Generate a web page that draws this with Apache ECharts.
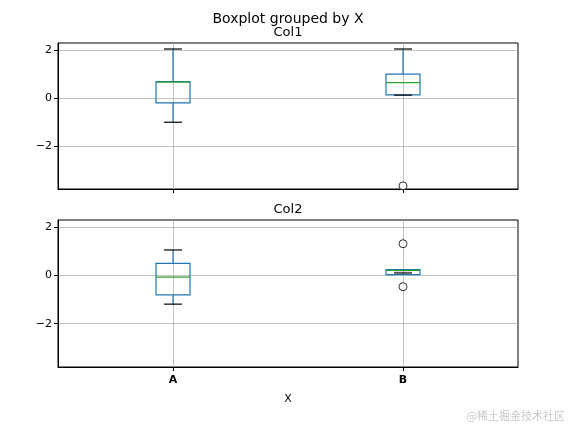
<!DOCTYPE html>
<html>
<head>
<meta charset="UTF-8">
<script src="https://cdn.jsdelivr.net/npm/echarts@6/dist/echarts.min.js"></script>
</head>
<body style="margin:0">
<div id="main" style="width:576px;height:432px;"></div>
<script type="text/javascript">
var groups = ['A', 'B'];
// [min, Q1, median, Q3, max]
var col1Box = [[-1.01, -0.2, 0.66, 0.68, 2.04], [0.12, 0.13, 0.64, 0.99, 2.04]];
var col2Box = [[-1.19, -0.81, -0.07, 0.5, 1.05], [0.1, 0.03, 0.21, 0.24, 0.2]];
var col1Out = [['B', -3.66]];
var col2Out = [['B', 1.31], ['B', -0.47]];
var yTicks = [-2, 0, 2];

var myChart = echarts.init(document.getElementById('main'));

function fmt(v) { return String(v).replace('-', '\u2212'); }

function yAxis(idx) {
    return {
        gridIndex: idx, type: 'value', min: -3.79, max: 2.29,
        axisLine: { show: true, lineStyle: { color: '#000' } },
        axisTick: { show: true, customValues: yTicks, length: 4, lineStyle: { color: '#000' } },
        axisLabel: { customValues: yTicks, formatter: fmt, color: '#000', fontSize: 11, margin: 6 },
        splitLine: { show: false }
    };
}
function xAxis(idx, labels) {
    return {
        gridIndex: idx, type: 'category', data: groups,
        name: labels ? 'X' : '', nameLocation: 'middle', nameGap: 27,
        nameTextStyle: { color: '#000', fontSize: 11 },
        axisLine: { show: true, onZero: false, lineStyle: { color: '#000' } },
        axisTick: { show: true, alignWithLabel: true, length: 4, lineStyle: { color: '#000' } },
        axisLabel: { show: labels, color: '#000', fontSize: 11, fontWeight: 'bold' },
        splitLine: { show: false }
    };
}

// box drawn by hand so caps and median can have their own colours
function renderBox(params, api) {
    var x = api.coord([api.value(0), 0])[0];
    var y = [1, 2, 3, 4, 5].map(function (k) { return api.coord([api.value(0), api.value(k)])[1]; });
    var hw = 17, cw = 9;
    var blue = { stroke: '#1f77b4', lineWidth: 1.2, fill: null };
    return {
        type: 'group',
        children: [
            { type: 'line', shape: { x1: x, y1: y[0], x2: x, y2: y[1] }, style: blue },
            { type: 'line', shape: { x1: x, y1: y[3], x2: x, y2: y[4] }, style: blue },
            { type: 'rect', shape: { x: x - hw, y: Math.min(y[1], y[3]), width: 2 * hw, height: Math.abs(y[1] - y[3]) }, style: blue },
            { type: 'line', shape: { x1: x - cw, y1: y[0], x2: x + cw, y2: y[0] }, style: { stroke: '#000', lineWidth: 1.2 } },
            { type: 'line', shape: { x1: x - cw, y1: y[4], x2: x + cw, y2: y[4] }, style: { stroke: '#000', lineWidth: 1.2 } },
            { type: 'line', shape: { x1: x - hw, y1: y[2], x2: x + hw, y2: y[2] }, style: { stroke: '#2ca02c', lineWidth: 1.2 } }
        ]
    };
}

function seriesFor(idx, box, out) {
    var grid = [{ yAxis: -2 }, { yAxis: 0 }, { yAxis: 2 }, { xAxis: 'A' }, { xAxis: 'B' }];
    var data = box.map(function (b, i) { return [i].concat(b); });
    return [
        {
            type: 'custom', xAxisIndex: idx, yAxisIndex: idx, data: data,
            renderItem: renderBox, encode: { x: 0, y: [1, 2, 3, 4, 5] },
            markLine: { silent: true, symbol: 'none', label: { show: false }, z: 0,
                lineStyle: { color: '#b0b0b0', type: 'solid', width: 0.8 }, data: grid },
            z: 3
        },
        {
            type: 'scatter', xAxisIndex: idx, yAxisIndex: idx, data: out,
            symbol: 'circle', symbolSize: 8,
            itemStyle: { color: '#fff', borderColor: '#000', borderWidth: 1 }, z: 5
        }
    ];
}

myChart.setOption({
    animation: false,
    backgroundColor: '#fff',
    textStyle: { fontFamily: 'DejaVu Sans' },
    title: [
        { text: 'Boxplot grouped by X', left: 'center', top: 7, textStyle: { fontSize: 14, fontWeight: 'normal', color: '#000', fontFamily: 'DejaVu Sans' } },
        { text: 'Col1', left: 'center', top: 21, textStyle: { fontSize: 13, fontWeight: 'normal', color: '#000', fontFamily: 'DejaVu Sans' } },
        { text: 'Col2', left: 'center', top: 198, textStyle: { fontSize: 13, fontWeight: 'normal', color: '#000', fontFamily: 'DejaVu Sans' } },
        { text: '@稀土掘金技术社区', right: 6, bottom: 6, textStyle: { fontSize: 11, fontWeight: 'normal', color: '#c8c8c8', fontFamily: 'Noto Sans CJK SC' } }
    ],
    grid: [
        { left: 58, right: 58, top: 43, height: 146, show: true, borderColor: '#000', borderWidth: 1 },
        { left: 58, right: 58, top: 220, height: 147, show: true, borderColor: '#000', borderWidth: 1 }
    ],
    xAxis: [xAxis(0, false), xAxis(1, true)],
    yAxis: [yAxis(0), yAxis(1)],
    series: seriesFor(0, col1Box, col1Out).concat(seriesFor(1, col2Box, col2Out))
});
</script>
</body>
</html>
